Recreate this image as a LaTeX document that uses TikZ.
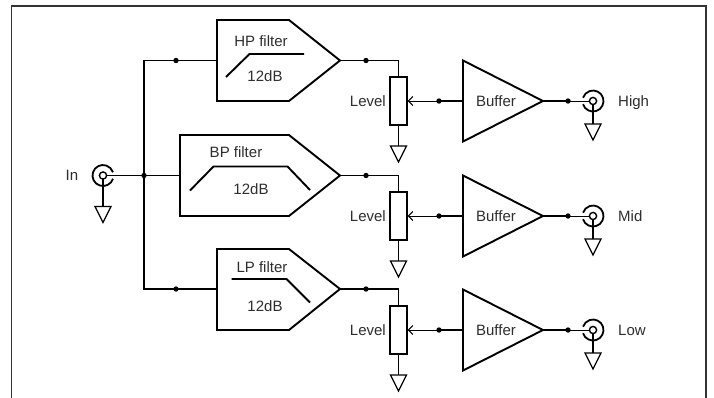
\documentclass[tikz,border=0pt]{standalone}
\usepackage{fontspec}
\setmainfont{Liberation Sans}
\usetikzlibrary{arrows.meta}
\begin{document}
\begin{tikzpicture}[x=1pt,y=-1pt,
  wire/.style={line width=1.9pt},
  thinwire/.style={line width=1pt},
  gwire/.style={line width=1.3pt},
  block/.style={line width=1.9pt, line join=miter},
  pot/.style={draw, line width=1.3pt, minimum width=17pt, minimum height=48pt, inner sep=0pt},
  lbl/.style={font=\fontsize{15}{17}\selectfont, text=black!82, inner sep=0pt, text height=10.7pt, text depth=0pt},
  gnd/.pic={\draw[gwire, line join=miter] (-8,0) -- (8,0) -- (0,16) -- cycle;},
  bncR/.pic={\draw[line width=1.4pt] (0,0) circle (3.6);
             \draw[line width=1.8pt] (162:10.5) arc (162:-162:10.5);},
  bncL/.pic={\draw[line width=1.4pt] (0,0) circle (3.6);
             \draw[line width=1.8pt] (18:10.5) arc (18:342:10.5);},
]
\useasboundingbox (0,0) rectangle (714,397);
\fill[white] (0,0) rectangle (714,397);
\draw[line width=1.5pt, black!80] (11.5,400) -- (11.5,6) -- (706,6) -- (706,400);

% ---- input ----
\coordinate (inc) at (103,175.5);
\pic at (inc) {bncL};
\node[lbl] (inlbl) at (72,175.5) {In};
\coordinate (inr) at (106.6,175.5);
\coordinate (bus) at (144,175.5);
\coordinate (bustop) at (144,60.5);
\coordinate (busbot) at (144,289);
\coordinate (ing) at (103,206.5);
\draw[gwire] (103,179.1) -- (ing);
\pic at (ing) {gnd};

% ---- filters ----
\draw[block] (217,20) -- (289,20) -- (340,60.5) -- (289,101) -- (217,101) -- cycle;
\coordinate (hpin) at (217,60.5);
\node[lbl] (hpt) at (261,41) {HP filter};
\node[lbl] (hpd) at (265,76) {12dB};
\draw[wire] (226,77) -- (249.5,54) -- (304,54);

\draw[block] (180,135) -- (289,135) -- (340,175.5) -- (289,216) -- (180,216) -- cycle;
\coordinate (bpin) at (180,175.5);
\node[lbl] (bpt) at (236,152) {BP filter};
\node[lbl] (bpd) at (251,189) {12dB};
\draw[wire] (190,190.5) -- (213.5,166.5) -- (287.5,166.5) -- (310,190);

\draw[block] (217,249) -- (289,249) -- (340,289) -- (289,330) -- (217,330) -- cycle;
\coordinate (lpin) at (217,289);
\node[lbl] (lpt) at (262,267.5) {LP filter};
\node[lbl] (lpd) at (265,306.5) {12dB};
\draw[wire] (231.5,279) -- (286.5,279) -- (310,302.5);

% ---- bus wiring ----
\draw[wire] (inr) -- (bus) -- (bpin);
\draw[wire] (hpin) -- (bustop) -- (busbot) -- (lpin);
\fill (176,60.5) circle (2.7);
\fill (bus) circle (2.7);
\fill (176,289) circle (2.7);

% ---- outputs ----
\foreach \n/\y/\w/\lab in {h/60.5/101/High,m/175.5/216/Mid,l/289/330/Low}{
  \coordinate (fo\n) at (340,\y);
  \coordinate (co\n) at (398.5,\y);
  \node[pot] (pot\n) at (398.5,\w) {};
  \coordinate (g\n) at (398.5,\w+45);
  \fill (366,\y) circle (2.7);
  \draw[wire] (fo\n) -- (co\n) -- (pot\n.north);
  \draw[gwire] (pot\n.south) -- (g\n);
  \pic at (g\n) {gnd};
  \node[lbl, anchor=east] (lv\n) at (386,\w) {Level};
  \coordinate (bi\n) at (463,\w);
  \coordinate (bo\n) at (543,\w);
  \draw[block] (463,\w-40.5) -- (bo\n) -- (463,\w+40.5) -- cycle;
  \node[lbl] (bf\n) at (496,\w) {Buffer};
  \coordinate (wd\n) at (439,\w);
  \fill (wd\n) circle (2.7);
  \draw[wire] (bi\n) -- (wd\n);
  \draw[thinwire, -{Straight Barb[length=4.5pt,width=9pt]}] (wd\n) -- (pot\n.east);
  \coordinate (od\n) at (568,\w);
  \fill (od\n) circle (2.7);
  \draw[wire] (bo\n) -- (od\n);
  \coordinate (oc\n) at (593,\w);
  \pic at (oc\n) {bncR};
  \draw[thinwire] (od\n) -- (589.4,\w);
  \coordinate (og\n) at (593,\w+23);
  \draw[gwire] (593,\w+3.6) -- (og\n);
  \pic at (og\n) {gnd};
  \node[lbl, anchor=west] (ol\n) at (618,\w) {\lab};
}
\end{tikzpicture}
\end{document}
